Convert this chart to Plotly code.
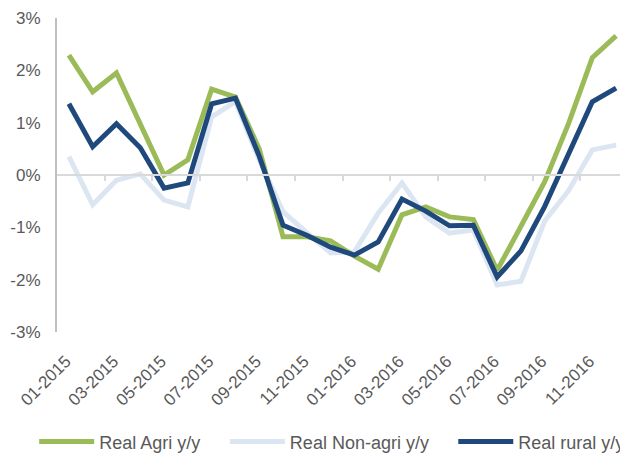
import plotly.graph_objects as go

months = ["01-2015","02-2015","03-2015","04-2015","05-2015","06-2015","07-2015","08-2015",
          "09-2015","10-2015","11-2015","12-2015","01-2016","02-2016","03-2016","04-2016",
          "05-2016","06-2016","07-2016","08-2016","09-2016","10-2016","11-2016","12-2016"]

agri = [2.29, 1.59, 1.95, 1.0, 0.0, 0.29, 1.64, 1.49, 0.5, -1.18, -1.18, -1.26,
        -1.55, -1.8, -0.76, -0.61, -0.8, -0.85, -1.82, -0.98, -0.13, 0.98, 2.24, 2.66]
nonagri = [0.35, -0.57, -0.1, 0.02, -0.48, -0.61, 1.11, 1.4, 0.29, -0.7, -1.1, -1.49,
           -1.47, -0.73, -0.15, -0.8, -1.11, -1.05, -2.1, -2.03, -0.88, -0.3, 0.48, 0.57]
rural = [1.36, 0.54, 0.98, 0.52, -0.25, -0.15, 1.36, 1.47, 0.36, -0.96, -1.15, -1.38,
         -1.53, -1.28, -0.46, -0.69, -0.97, -0.96, -1.95, -1.45, -0.6, 0.42, 1.4, 1.66]

yticks = [-3, -2, -1, 0, 1, 2, 3]
ytext = [f"{v}%" for v in yticks]

idx = list(range(len(months)))
tickvals = idx[::2]
ticktext = months[::2]
boundaries = [i - 0.5 for i in range(2, len(months), 2)]

GREEN = "#9BBB59"
LIGHT = "#DCE6F2"
BLUE = "#1F497D"
FONT = "Liberation Sans, Arial, sans-serif"
TXT = "#595959"

fig = go.Figure()
fig.add_trace(go.Scatter(x=idx, y=nonagri, mode="lines", name="Real Non-agri y/y",
                         line=dict(color=LIGHT, width=5), legend="legend2"))
fig.add_trace(go.Scatter(x=idx, y=agri, mode="lines", name="Real Agri y/y",
                         line=dict(color=GREEN, width=5), legend="legend"))
fig.add_trace(go.Scatter(x=idx, y=rural, mode="lines", name="Real rural y/y",
                         line=dict(color=BLUE, width=5), legend="legend3"))
fig.add_trace(go.Scatter(x=[], y=[], xaxis="x2", showlegend=False, hoverinfo="skip"))

leg = dict(orientation="h", xanchor="left", y=-0.35, yanchor="middle",
           font=dict(size=18, color=TXT), itemwidth=55, bgcolor="rgba(0,0,0,0)")

# the page body adds an 8px offset, so the figure is sized to fit the window
fig.update_layout(
    width=620, height=447,
    margin=dict(l=49, r=0, t=10, b=123, autoexpand=False),
    paper_bgcolor="white", plot_bgcolor="white",
    font=dict(family=FONT, color=TXT),
    showlegend=True,
    legend=dict(leg, x=-0.040),
    legend2=dict(leg, x=0.294),
    legend3=dict(leg, x=0.694),
    xaxis=dict(range=[-0.5, len(months) - 0.5], tickmode="array", tickvals=tickvals,
               ticktext=ticktext, tickangle=-45, showgrid=False, zeroline=False,
               showline=False, ticks="", ticklabelstandoff=15, ticklabelshift=-3,
               automargin=False, tickfont=dict(size=17, color=TXT)),
    xaxis2=dict(range=[-0.5, len(months) - 0.5], overlaying="x", anchor="free", position=0.5,
                showline=True, linecolor="#D9D9D9", linewidth=2, ticks="outside",
                ticklen=5, tickwidth=2, tickcolor="#D9D9D9", tickmode="array",
                tickvals=boundaries, showticklabels=False, showgrid=False, zeroline=False),
    yaxis=dict(range=[-3, 3], tickmode="array", tickvals=yticks, ticktext=ytext,
               showgrid=False, zeroline=False, showline=True, linecolor="#BFBFBF",
               linewidth=2, ticks="", ticklabelstandoff=11, automargin=False,
               tickfont=dict(size=17, color=TXT)),
)

fig.write_html("out.html")
